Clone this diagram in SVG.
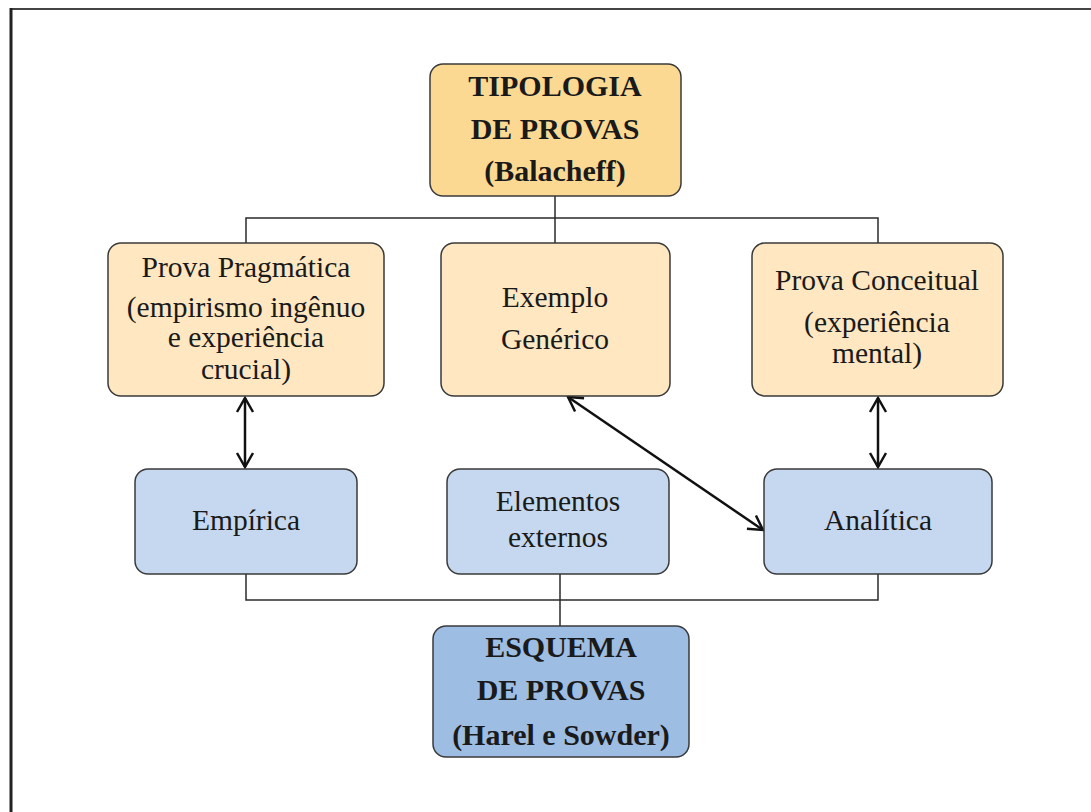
<svg xmlns="http://www.w3.org/2000/svg" width="1091" height="812" viewBox="0 0 1091 812">
<style>
.box{stroke:#3a3a3a;stroke-width:1.5}
.t1{fill:#fcd992}
.t2{fill:#fee7c1}
.b1{fill:#c6d8ef}
.b2{fill:#9dbde3}
text{font-family:"Liberation Serif","Times New Roman",serif;fill:#1a1a1a;text-anchor:middle}
.bold{font-weight:bold;font-size:30px}
.reg{font-size:29.5px}
.ln{stroke:#2a2a2a;stroke-width:1.5;fill:none}
.arr{stroke:#111;stroke-width:2.5;fill:none;marker-start:url(#ah);marker-end:url(#ah)}
</style>
<defs>
<marker id="ah" viewBox="0 0 20 20" refX="18" refY="10" markerWidth="20" markerHeight="20" markerUnits="userSpaceOnUse" orient="auto-start-reverse">
<path d="M4,2 L18,10 L4,18" fill="none" stroke="#111" stroke-width="2.5"/>
</marker>
</defs>
<rect width="1091" height="812" fill="#fff"/>
<g id="frame">
<line x1="10" y1="9" x2="1091" y2="9" stroke="#444" stroke-width="2"/>
<line x1="11" y1="8" x2="11" y2="812" stroke="#222" stroke-width="3"/>
</g>
<g id="connectors">
<path class="ln" d="M555,196 V218 M246,243 V218 H878 V243 M555,218 V243"/>
<path class="ln" d="M246,574 V600 H878 V574 M560,574 V626"/>
<line class="arr" x1="245" y1="398" x2="245" y2="467"/>
<line class="arr" x1="878" y1="398" x2="878" y2="467"/>
<line class="arr" x1="568" y1="397" x2="763" y2="530"/>
</g>
<g id="tipologia">
<rect class="box t1" x="430" y="64" width="251" height="132" rx="13"/>
<text class="bold" x="555" y="96">TIPOLOGIA</text>
<text class="bold" x="555" y="139">DE PROVAS</text>
<text class="bold" x="555" y="181">(Balacheff)</text>
</g>
<g id="pragmatica">
<rect class="box t2" x="108" y="243" width="276" height="153" rx="13"/>
<text class="reg" x="246" y="277">Prova Pragmática</text>
<text class="reg" x="246" y="317">(empirismo ingênuo</text>
<text class="reg" x="246" y="347">e experiência</text>
<text class="reg" x="246" y="379">crucial)</text>
</g>
<g id="exemplo">
<rect class="box t2" x="441" y="243" width="229" height="153" rx="13"/>
<text class="reg" x="555" y="307">Exemplo</text>
<text class="reg" x="555" y="349">Genérico</text>
</g>
<g id="conceitual">
<rect class="box t2" x="752" y="243" width="251" height="153" rx="13"/>
<text class="reg" x="877" y="290">Prova Conceitual</text>
<text class="reg" x="877" y="332">(experiência</text>
<text class="reg" x="877" y="363">mental)</text>
</g>
<g id="empirica">
<rect class="box b1" x="135" y="469" width="222" height="105" rx="13"/>
<text class="reg" x="246" y="530">Empírica</text>
</g>
<g id="elementos">
<rect class="box b1" x="447" y="469" width="222" height="105" rx="13"/>
<text class="reg" x="558" y="511">Elementos</text>
<text class="reg" x="558" y="547">externos</text>
</g>
<g id="analitica">
<rect class="box b1" x="764" y="469" width="228" height="105" rx="13"/>
<text class="reg" x="878" y="530">Analítica</text>
</g>
<g id="esquema">
<rect class="box b2" x="433" y="626" width="256" height="131" rx="13"/>
<text class="bold" x="561" y="657">ESQUEMA</text>
<text class="bold" x="561" y="700">DE PROVAS</text>
<text class="bold" x="561" y="745">(Harel e Sowder)</text>
</g>
</svg>
